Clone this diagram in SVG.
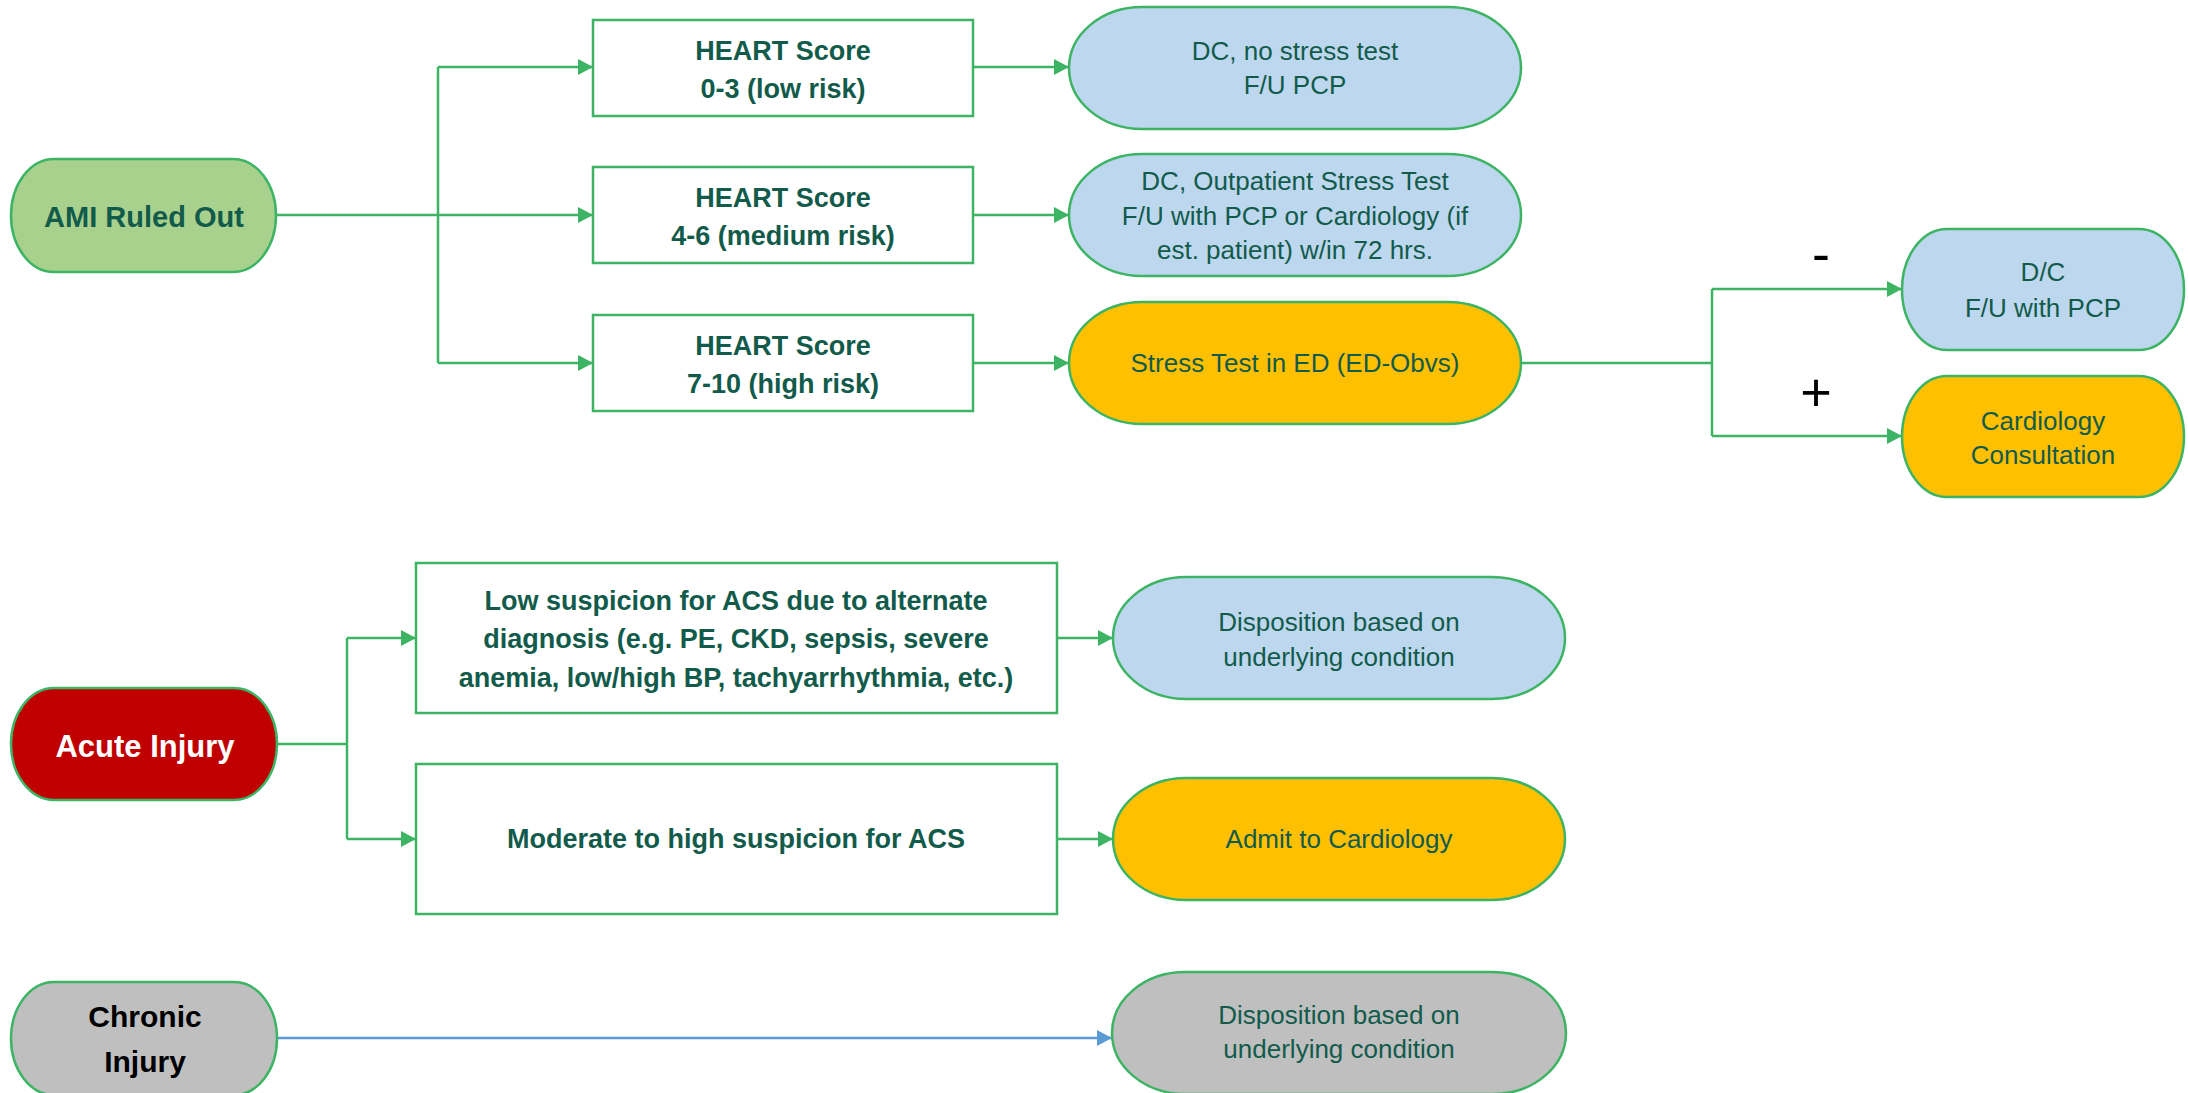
<svg xmlns="http://www.w3.org/2000/svg" width="2188" height="1093" viewBox="0 0 2188 1093">
<defs>
<style>
.t{font-family:"Liberation Sans",Arial,sans-serif;text-anchor:middle;fill:#125B4B}
.b{font-weight:bold;font-size:27px}
.r{font-size:26px}
.box{fill:#FFFFFF;stroke:#3CB464;stroke-width:2.5}
.term{stroke:#3CB464;stroke-width:2.5}
.blue{fill:#BDD7EE}
.orange{fill:#FFC000}
.gc{fill:none;stroke:#3CB464;stroke-width:2.5}
.bc{fill:none;stroke:#5B9BD5;stroke-width:2.5}
.sign{font-family:"Liberation Sans",Arial,sans-serif;text-anchor:middle;fill:#000000;font-size:54px}
</style>
<marker id="ag" viewBox="0 0 15 16" refX="15" refY="8" markerWidth="15" markerHeight="16" markerUnits="userSpaceOnUse" orient="auto"><path d="M0,0 L15,8 L0,16 z" fill="#3CB464"/></marker>
<marker id="ab" viewBox="0 0 15 16" refX="15" refY="8" markerWidth="15" markerHeight="16" markerUnits="userSpaceOnUse" orient="auto"><path d="M0,0 L15,8 L0,16 z" fill="#5B9BD5"/></marker>
</defs>
<rect width="2188" height="1093" fill="#FFFFFF"/>

<g id="connectors">
<path class="gc" d="M276,215 H593" marker-end="url(#ag)"/>
<path class="gc" d="M438,67 V363"/>
<path class="gc" d="M438,67 H593" marker-end="url(#ag)"/>
<path class="gc" d="M438,363 H593" marker-end="url(#ag)"/>
<path class="gc" d="M973,67 H1069" marker-end="url(#ag)"/>
<path class="gc" d="M973,215 H1069" marker-end="url(#ag)"/>
<path class="gc" d="M973,363 H1069" marker-end="url(#ag)"/>
<path class="gc" d="M1521,363 H1712"/>
<path class="gc" d="M1712,289 V436"/>
<path class="gc" d="M1712,289 H1902" marker-end="url(#ag)"/>
<path class="gc" d="M1712,436 H1902" marker-end="url(#ag)"/>
<path class="gc" d="M277,744 H347"/>
<path class="gc" d="M347,638 V839"/>
<path class="gc" d="M347,638 H416" marker-end="url(#ag)"/>
<path class="gc" d="M347,839 H416" marker-end="url(#ag)"/>
<path class="gc" d="M1057,638 H1113" marker-end="url(#ag)"/>
<path class="gc" d="M1057,839 H1113" marker-end="url(#ag)"/>
<path class="bc" d="M277,1038 H1112" marker-end="url(#ab)"/>
<text class="sign" x="1821" y="272">-</text>
<text class="sign" x="1816" y="411">+</text>
</g>

<g id="ami">
<rect class="term" x="11" y="159" width="265" height="113" rx="43" ry="56.5" fill="#A9D18E"/>
<text class="t" x="144" y="227" font-weight="bold" font-size="29">AMI Ruled Out</text>
</g>

<g id="heart-low">
<rect class="box" x="593" y="20" width="380" height="96"/>
<text class="t b" x="783" y="60">HEART Score</text>
<text class="t b" x="783" y="98">0-3 (low risk)</text>
</g>
<g id="heart-med">
<rect class="box" x="593" y="167" width="380" height="96"/>
<text class="t b" x="783" y="207">HEART Score</text>
<text class="t b" x="783" y="245">4-6 (medium risk)</text>
</g>
<g id="heart-high">
<rect class="box" x="593" y="315" width="380" height="96"/>
<text class="t b" x="783" y="355">HEART Score</text>
<text class="t b" x="783" y="393">7-10 (high risk)</text>
</g>

<g id="dc-no-stress">
<rect class="term blue" x="1069" y="7" width="452" height="122" rx="73" ry="61"/>
<text class="t r" x="1295" y="60">DC, no stress test</text>
<text class="t r" x="1295" y="94">F/U PCP</text>
</g>
<g id="dc-outpatient">
<rect class="term blue" x="1069" y="154" width="452" height="122" rx="73" ry="61"/>
<text class="t r" x="1295" y="190">DC, Outpatient Stress Test</text>
<text class="t r" x="1295" y="225">F/U with PCP or Cardiology (if</text>
<text class="t r" x="1295" y="259">est. patient) w/in 72 hrs.</text>
</g>
<g id="stress-ed">
<rect class="term orange" x="1069" y="302" width="452" height="122" rx="73" ry="61"/>
<text class="t r" x="1295" y="372">Stress Test in ED (ED-Obvs)</text>
</g>

<g id="dc-pcp">
<rect class="term blue" x="1902" y="229" width="282" height="121" rx="45" ry="60.5"/>
<text class="t r" x="2043" y="281">D/C</text>
<text class="t r" x="2043" y="317">F/U with PCP</text>
</g>
<g id="cardio-consult">
<rect class="term orange" x="1902" y="376" width="282" height="121" rx="45" ry="60.5"/>
<text class="t r" x="2043" y="430">Cardiology</text>
<text class="t r" x="2043" y="464">Consultation</text>
</g>

<g id="acute">
<rect class="term" x="11" y="688" width="266" height="112" rx="43" ry="56" fill="#C00000"/>
<text class="t" x="145" y="757" font-weight="bold" font-size="31" style="fill:#FFFFFF">Acute Injury</text>
</g>

<g id="low-suspicion">
<rect class="box" x="416" y="563" width="641" height="150"/>
<text class="t b" x="736" y="610">Low suspicion for ACS due to alternate</text>
<text class="t b" x="736" y="648">diagnosis (e.g. PE, CKD, sepsis, severe</text>
<text class="t b" x="736" y="687">anemia, low/high BP, tachyarrhythmia, etc.)</text>
</g>
<g id="mod-high">
<rect class="box" x="416" y="764" width="641" height="150"/>
<text class="t b" x="736" y="848">Moderate to high suspicion for ACS</text>
</g>

<g id="disp-acute">
<rect class="term blue" x="1113" y="577" width="452" height="122" rx="73" ry="61"/>
<text class="t r" x="1339" y="631">Disposition based on</text>
<text class="t r" x="1339" y="666">underlying condition</text>
</g>
<g id="admit-cardio">
<rect class="term orange" x="1113" y="778" width="452" height="122" rx="73" ry="61"/>
<text class="t r" x="1339" y="848">Admit to Cardiology</text>
</g>

<g id="chronic">
<rect class="term" x="11" y="982" width="266" height="113" rx="43" ry="56.5" fill="#BFBFBF"/>
<text class="t" x="145" y="1027" font-weight="bold" font-size="30" style="fill:#000000">Chronic</text>
<text class="t" x="145" y="1072" font-weight="bold" font-size="30" style="fill:#000000">Injury</text>
</g>
<g id="disp-chronic">
<rect class="term" x="1112" y="972" width="454" height="122" rx="73" ry="61" fill="#BFBFBF"/>
<text class="t r" x="1339" y="1024">Disposition based on</text>
<text class="t r" x="1339" y="1058">underlying condition</text>
</g>
</svg>
